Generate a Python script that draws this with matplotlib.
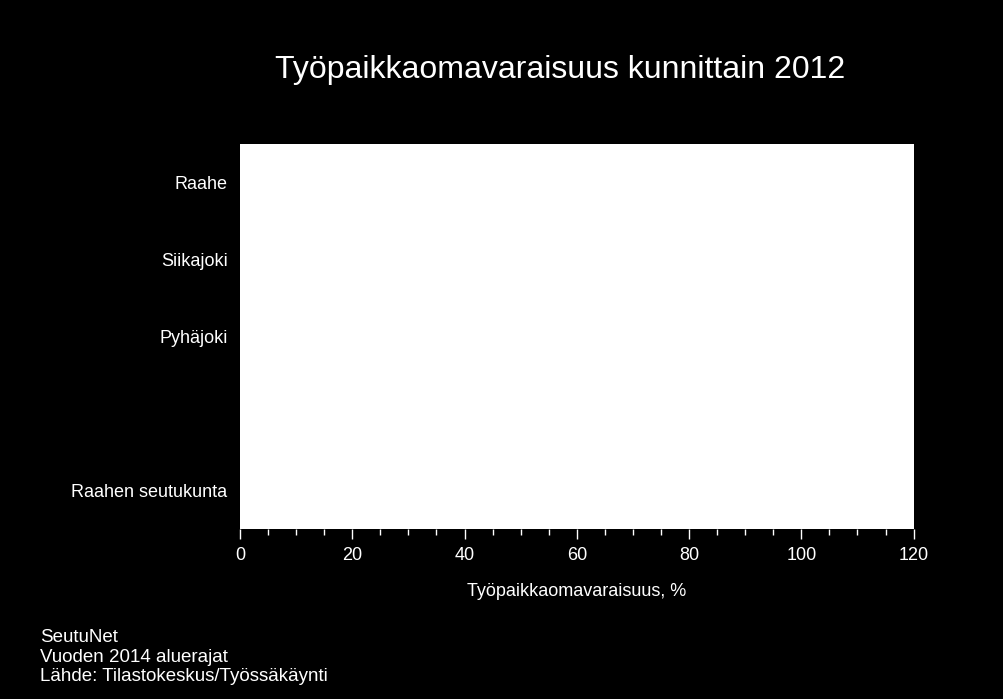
import numpy as np
import matplotlib.pyplot as plt

plt.rcParams['font.family'] = ['Liberation Sans', 'DejaVu Sans']

# categories top to bottom (one empty slot before the region total)
categories = ['Raahe', 'Siikajoki', 'Pyhäjoki', '', 'Raahen seutukunta']
# no bars are visible in the reference picture
values = [np.nan, np.nan, np.nan, np.nan, np.nan]

fig = plt.figure(figsize=(10.04, 6.99), dpi=100, facecolor='black')
ax = fig.add_axes([0.239, 0.243, 0.671, 0.551])
ax.set_facecolor('white')

y = np.arange(len(categories))
ax.barh(y, values, color='white', height=0.6)
ax.set_yticks(y)
ax.set_yticklabels(categories, color='white', fontsize=13)
ax.set_ylim(len(categories) - 0.5, -0.5)
ax.tick_params(axis='y', length=0, pad=9)

ax.set_xlim(0, 120)
ax.set_xticks(np.arange(0, 121, 20))
ax.set_xticks(np.arange(0, 121, 5), minor=True)
ax.tick_params(axis='x', which='major', colors='white', labelcolor='white', labelsize=13,
               length=7.5, width=1, direction='out', pad=5)
ax.tick_params(axis='x', which='minor', colors='white', length=4, width=1, direction='out')
for s in ax.spines.values():
    s.set_visible(False)

ax.set_xlabel('Työpaikkaomavaraisuus, %', color='white', fontsize=13, labelpad=14)

fig.text(0.558, 0.9, 'Työpaikkaomavaraisuus kunnittain 2012', color='white',
         fontsize=23, ha='center', va='center')

fig.text(0.04, 0.06, 'SeutuNet\nVuoden 2014 aluerajat\nLähde: Tilastokeskus/Työssäkäynti',
         color='white', fontsize=13.5, ha='left', va='center', linespacing=1.2)

fig.savefig('out.png', dpi=100, facecolor='black')
